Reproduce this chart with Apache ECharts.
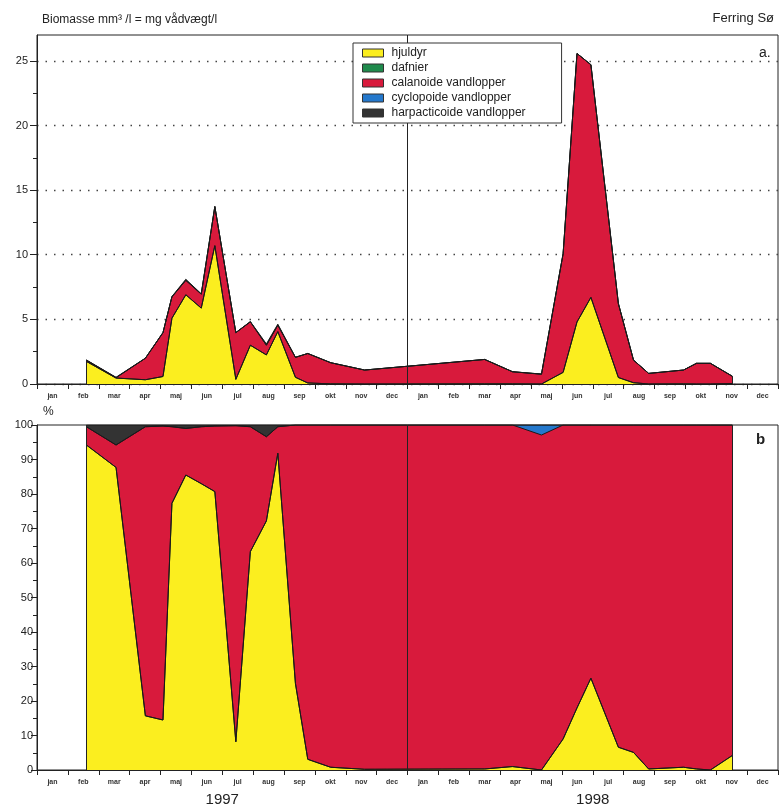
<!DOCTYPE html>
<html>
<head>
<meta charset="utf-8">
<script src="https://cdn.jsdelivr.net/npm/echarts@6/dist/echarts.min.js"></script>
<style>
html, body { margin: 0; padding: 0; background: #fff; }
#chart { width: 779px; height: 809px; }
</style>
</head>
<body>
<div id="chart"></div>
<script>
// x axis: months counted from 1 jan 1997
const monthLabels = ['jan','feb','mar','apr','maj','jun','jul','aug','sep','okt','nov','dec'];
const yearLabels = ['1997', '1998'];
const topTicks = [0, 5, 10, 15, 20, 25];
const topMinorTicks = [2.5, 7.5, 12.5, 17.5, 22.5];

// sample dates (months since 1 jan 1997)
const sampleMonths = [1.60, 2.56, 3.51, 4.08, 4.37, 4.82, 5.32, 5.76, 6.44, 6.91, 7.43, 7.80, 8.37, 8.77, 9.51, 10.61,
  14.50, 15.40, 16.34, 17.04, 17.49, 17.94, 18.83, 19.32, 19.81, 20.94, 21.36, 21.81, 22.52];

// a. biomasse mm3/l
const hjuldyr    = [1.75, 0.46, 0.33, 0.58, 5.09, 6.90, 5.87, 10.70, 0.36, 3.00, 2.25, 4.05, 0.52, 0.08, 0.01, 0.00,
  0.01, 0.01, 0.00, 0.90, 4.80, 6.70, 0.50, 0.10, 0.00, 0.01, 0.00, 0.00, 0.03];
const dafnier    = [0, 0, 0, 0, 0, 0, 0, 0, 0, 0, 0, 0, 0, 0, 0, 0, 0, 0, 0, 0, 0, 0, 0, 0, 0, 0, 0, 0, 0];
const calanoide  = [0.09, 0.03, 1.66, 3.39, 1.65, 1.12, 1.08, 3.02, 3.61, 1.81, 0.75, 0.50, 1.54, 2.28, 1.64, 1.08,
  1.89, 0.94, 0.75, 9.18, 20.77, 18.00, 5.72, 1.75, 0.82, 1.07, 1.60, 1.60, 0.57];
const cyclopoide = [0, 0, 0, 0, 0, 0, 0, 0, 0, 0, 0, 0, 0, 0, 0, 0, 0, 0, 0.02, 0, 0, 0, 0, 0, 0, 0, 0, 0, 0];
const harpacticoide = [0.02, 0.03, 0.01, 0.01, 0.03, 0.08, 0.03, 0.02, 0.01, 0.02, 0.10, 0.08, 0.01, 0, 0, 0,
  0, 0, 0, 0, 0, 0, 0, 0, 0, 0, 0, 0, 0];

// b. procent
const hjuldyrPct    = [94.2, 87.7, 15.7, 14.5, 77.3, 85.5, 83.0, 80.7, 8.2, 63.3, 72.2, 91.8, 25.1, 3.1, 0.8, 0.2,
  0.3, 1.0, 0.0, 9.0, 18.0, 26.6, 6.6, 5.1, 0.3, 0.8, 0.3, 0.0, 4.2];
const dafnierPct    = [0, 0, 0, 0, 0, 0, 0, 0, 0, 0, 0, 0, 0, 0, 0, 0, 0, 0, 0, 0, 0, 0, 0, 0, 0, 0, 0, 0, 0];
const calanoidePct  = [5.3, 6.5, 83.8, 85.2, 22.2, 13.5, 16.5, 19.0, 91.6, 36.2, 24.4, 7.7, 74.9, 96.9, 99.2, 99.8,
  99.7, 99.0, 97.1, 91.0, 82.0, 73.4, 93.4, 94.9, 99.7, 99.2, 99.7, 100, 95.8];
const cyclopoidePct = [0, 0, 0, 0, 0, 0, 0, 0, 0, 0, 0, 0, 0, 0, 0, 0, 0, 0, 2.9, 0, 0, 0, 0, 0, 0, 0, 0, 0, 0];
const harpacticoidePct = [0.5, 5.8, 0.5, 0.3, 0.5, 1.0, 0.5, 0.3, 0.2, 0.5, 3.4, 0.5, 0, 0, 0, 0,
  0, 0, 0, 0, 0, 0, 0, 0, 0, 0, 0, 0, 0];

const names = ['hjuldyr', 'dafnier', 'calanoide vandlopper', 'cyclopoide vandlopper', 'harpacticoide vandlopper'];
const colors = ['#fbee1f', '#1f8a4c', '#d81a3c', '#2478cc', '#333333'];
const font = 'Liberation Sans, Arial, sans-serif';

const chart = echarts.init(document.getElementById('chart'));

const last = sampleMonths.length - 1;
const topArrs = [hjuldyr, dafnier, calanoide, cyclopoide, harpacticoide];
const pctArrs = [hjuldyrPct, dafnierPct, calanoidePct, cyclopoidePct, harpacticoidePct];

// running sums (stacking done here: echarts stacks the x dimension when both axes are 'value')
function cumulative(arrs) {
  let run = sampleMonths.map(() => 0);
  return arrs.map(a => {
    run = run.map((v, i) => v + a[i]);
    return run.slice();
  });
}

function edgeLines(tops) {
  return [
    { xAxis: 12 },
    [{ coord: [sampleMonths[0], 0] }, { coord: [sampleMonths[0], tops[0]] }],
    [{ coord: [sampleMonths[last], 0] }, { coord: [sampleMonths[last], tops[last]] }]
  ];
}

function makeSeries(gi, arrs) {
  const cum = cumulative(arrs);
  const topLine = cum[cum.length - 1];
  const list = cum.map((vals, k) => ({
    name: names[k],
    type: 'line',
    xAxisIndex: gi * 2,
    yAxisIndex: gi === 0 ? 0 : 2,
    data: sampleMonths.map((t, i) => [t, vals[i]]),
    symbol: 'none',
    showSymbol: false,
    color: colors[k],
    lineStyle: { color: '#1a1a1a', width: 1 },
    itemStyle: { color: colors[k] },
    areaStyle: { color: colors[k], opacity: 1, origin: 'start' },
    emphasis: { disabled: true },
    z: 2
  }));
  // top layer first so the lower layers are painted over it
  list.reverse();
  list[list.length - 1].markLine = {
    silent: true,
    symbol: 'none',
    z: 3,
    label: { show: false },
    lineStyle: { color: '#222', width: 1, type: 'solid' },
    data: edgeLines(topLine)
  };
  return list;
}

const allMonths = monthLabels.concat(monthLabels);

function valueX(gi) {
  return {
    type: 'value', gridIndex: gi, min: 0, max: 24, interval: 1,
    axisLine: { show: true, lineStyle: { color: '#222', width: 1 } },
    axisTick: { show: true, inside: false, length: 5, lineStyle: { color: '#222' } },
    axisLabel: { show: false },
    splitLine: { show: false }
  };
}
function monthX(gi) {
  return {
    type: 'category', gridIndex: gi, position: 'bottom', data: allMonths, boundaryGap: true,
    axisLine: { show: false }, axisTick: { show: false }, splitLine: { show: false },
    axisLabel: { interval: 0, fontSize: 7, fontWeight: 'bold', color: '#333', fontFamily: font, margin: 9 }
  };
}

const option = {
  animation: false,
  backgroundColor: '#fff',
  textStyle: { fontFamily: font },
  legend: {
    data: names,
    orient: 'vertical',
    left: 353,
    top: 43,
    z: 10,
    icon: 'rect',
    itemWidth: 21,
    itemHeight: 8,
    itemGap: 3,
    padding: [4, 36, 4, 9],
    backgroundColor: '#fff',
    borderColor: '#333',
    borderWidth: 1,
    borderRadius: 0,
    selectedMode: false,
    itemStyle: { borderColor: '#333', borderWidth: 1 },
    textStyle: { fontSize: 12, lineHeight: 12, color: '#222', fontFamily: font, padding: [0, 0, 0, 3] }
  },
  grid: [
    { left: 37, right: 1, top: 35, height: 349, show: true, borderColor: '#222', borderWidth: 1 },
    { left: 37, right: 1, top: 425, height: 345, show: true, borderColor: '#222', borderWidth: 1 }
  ],
  xAxis: [valueX(0), monthX(0), valueX(1), monthX(1)],
  yAxis: [
    {
      type: 'value', gridIndex: 0, min: 0, max: 27, position: 'left',
      axisLine: { show: true, lineStyle: { color: '#222' } },
      axisTick: { show: true, length: 7, customValues: topTicks, lineStyle: { color: '#222' } },
      axisLabel: { customValues: topTicks, fontSize: 11, color: '#222', fontFamily: font, margin: 9 },
      splitLine: { show: true, lineStyle: { color: '#444', width: 1.3, type: [1.5, 7] } }
    },
    {
      type: 'value', gridIndex: 0, min: 0, max: 27, position: 'left',
      axisLine: { show: false },
      axisTick: { show: true, length: 4, customValues: topMinorTicks, lineStyle: { color: '#222' } },
      axisLabel: { show: false },
      splitLine: { show: false }
    },
    {
      type: 'value', gridIndex: 1, min: 0, max: 100, interval: 10, position: 'left',
      axisLine: { show: true, lineStyle: { color: '#222' } },
      axisTick: { show: true, length: 6, lineStyle: { color: '#222' } },
      minorTick: { show: true, splitNumber: 2, length: 4, lineStyle: { color: '#222' } },
      axisLabel: { fontSize: 11, color: '#222', fontFamily: font, margin: 4 },
      splitLine: { show: false }
    }
  ],
  series: makeSeries(0, topArrs).concat(makeSeries(1, pctArrs))
};

chart.setOption(option);

// year labels placed under the middle of each year through the axis scale
const y1 = chart.convertToPixel({ xAxisIndex: 2 }, 6);
const y2 = chart.convertToPixel({ xAxisIndex: 2 }, 18);

chart.setOption({
  graphic: [
    { type: 'text', left: 42, top: 14, style: { text: 'Biomasse mm³ /l = mg vådvægt/l', font: '12px ' + font, fill: '#222' } },
    { type: 'text', right: 5, top: 12, style: { text: 'Ferring Sø', font: '13px ' + font, fill: '#222' } },
    { type: 'text', left: 759, top: 46, style: { text: 'a.', font: '14px ' + font, fill: '#222' } },
    { type: 'text', left: 43, top: 406, style: { text: '%', font: '12px ' + font, fill: '#222' } },
    { type: 'text', left: 756, top: 432, style: { text: 'b', font: 'bold 15px ' + font, fill: '#222' } },
    { type: 'text', x: y1, y: 800, style: { text: yearLabels[0], font: '15px ' + font, fill: '#222', textAlign: 'center', textVerticalAlign: 'middle' } },
    { type: 'text', x: y2, y: 800, style: { text: yearLabels[1], font: '15px ' + font, fill: '#222', textAlign: 'center', textVerticalAlign: 'middle' } }
  ]
});
</script>
</body>
</html>
